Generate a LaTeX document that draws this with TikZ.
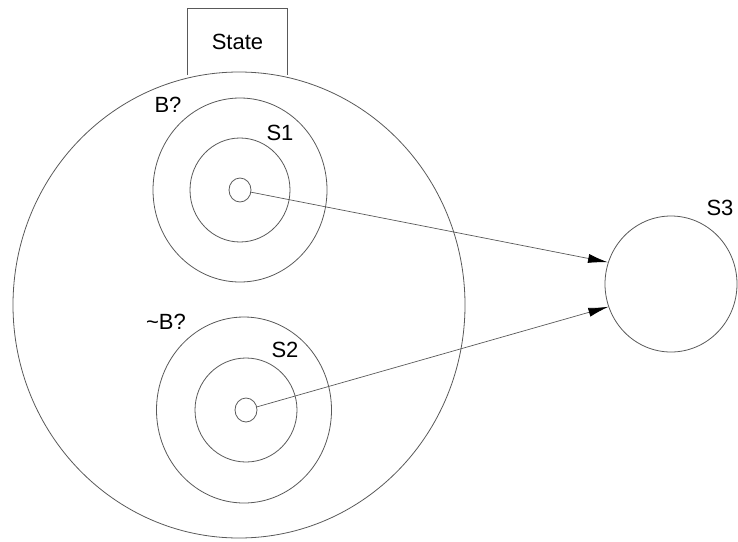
\documentclass[tikz,border=0pt]{standalone}
\usepackage{fontspec}
\setmainfont{Liberation Sans}
\usetikzlibrary{shapes.geometric,arrows.meta}
\begin{document}
\begin{tikzpicture}[x=1pt,y=-1pt,
  ring/.style={draw=black!65,line width=0.8pt,ellipse,inner sep=0pt},
  lbl/.style={font=\fontsize{22}{26}\selectfont,inner sep=0pt},
  conn/.style={draw=black!65,line width=0.7pt,-{Latex[length=20pt,width=9pt,color=black]}}]
\useasboundingbox (0,0) rectangle (738,541);
% big state circle
\node[ring,minimum width=452,minimum height=466] (big) at (239,305) {};
% state tab
\node[minimum width=99,minimum height=66,inner sep=0pt,lbl] (state) at (237.5,42) {State};
\draw[black!65,line width=0.8pt] (state.south west) -- (state.north west) -- (state.north east) -- (state.south east);
% top concentric
\node[ring,minimum width=174,minimum height=184] (b1) at (240,190) {};
\node[ring,minimum width=100,minimum height=104] (s1) at (240,190) {};
\node[ring,minimum width=22,minimum height=24] (s1c) at (240,190) {};
% bottom concentric
\node[ring,minimum width=175,minimum height=186] (b2) at (244,410) {};
\node[ring,minimum width=102,minimum height=104] (s2) at (246,410) {};
\node[ring,minimum width=22,minimum height=24] (s2c) at (246,410) {};
% S3
\node[ring,minimum width=132,minimum height=136] (s3) at (671,284) {};
% labels
\node[lbl] (lb1) at (168,105) {B?};
\node[lbl] (ls1) at (280,133) {S1};
\node[lbl] (lb2) at (166,322) {\textasciitilde B?};
\node[lbl] (ls2) at (285,350) {S2};
\node[lbl] (ls3) at (720,208) {S3};
% connectors
\draw[conn] (s1c) -- (s3.161);
\draw[conn] (s2c) -- (s3.200);
\end{tikzpicture}
\end{document}
